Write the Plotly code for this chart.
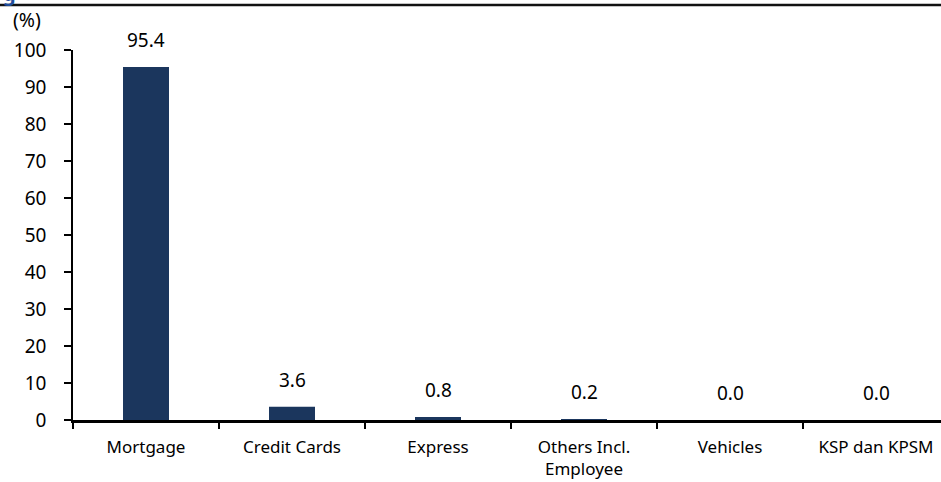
import plotly.graph_objects as go

categories = ["Mortgage", "Credit Cards", "Express", "Others Incl.<br>Employee", "Vehicles", "KSP dan KPSM"]
values = [95.4, 3.6, 0.8, 0.2, 0.0, 0.0]
y_ticks = [0, 10, 20, 30, 40, 50, 60, 70, 80, 90, 100]

FONT = "Noto Sans"
BAR = "#1b365d"

xs = list(range(len(categories)))

fig = go.Figure()
fig.add_trace(go.Bar(x=xs, y=values, marker=dict(color=BAR, line=dict(width=0)),
                     width=0.315, hoverinfo="skip"))

for x, v in zip(xs, values):
    fig.add_annotation(x=x, y=v, text=f"{v:.1f}", showarrow=False, yanchor="bottom",
                       yshift=12, font=dict(family=FONT, size=19, color="black"))

fig.add_annotation(xref="paper", yref="paper", x=-73/868 + 11/868, y=(420-20)/370,
                   text="(%)", showarrow=False, xanchor="left", yanchor="middle",
                   font=dict(family=FONT, size=19.5, color="black"))

# cut-off title glyph at very top
fig.add_annotation(xref="paper", yref="paper", x=-73/868 + 1/868, y=(420-9)/370,
                   text="<b>g</b>", showarrow=False, xanchor="left", yanchor="bottom",
                   font=dict(family=FONT, size=20, color="#1f4e9c"))

fig.add_shape(type="line", xref="paper", yref="paper", x0=-73/868, x1=1.01,
              y0=(420-5)/370, y1=(420-5)/370, line=dict(color="#111111", width=2.5))

fig.update_layout(
    width=941, height=482,
    margin=dict(l=73, r=0, t=50, b=62, autoexpand=False),
    paper_bgcolor="white", plot_bgcolor="white",
    showlegend=False,
    font=dict(family=FONT, size=18, color="black"),
    xaxis=dict(range=[-0.5, 5.5 - 8/146], tickmode="array", tickvals=xs, ticktext=categories,
               ticks="", showline=True, linecolor="black", linewidth=2.5, showgrid=False,
               zeroline=False, ticklabelstandoff=10, automargin=False,
               tickfont=dict(family=FONT, size=17, color="black"),
               minor=dict(tickmode="array", tickvals=[i - 0.5 for i in range(7)],
                          ticks="outside", ticklen=6, tickcolor="black", tickwidth=1.5)),
    yaxis=dict(range=[0, 100], tickmode="array", tickvals=y_ticks, ticks="outside",
               ticklen=7, tickcolor="black", tickwidth=1.5, showline=True, linecolor="black",
               linewidth=1.5, showgrid=False, zeroline=False, ticklabelstandoff=14,
               automargin=False, tickfont=dict(family=FONT, size=19, color="black")),
)

fig.write_html("out.html")
